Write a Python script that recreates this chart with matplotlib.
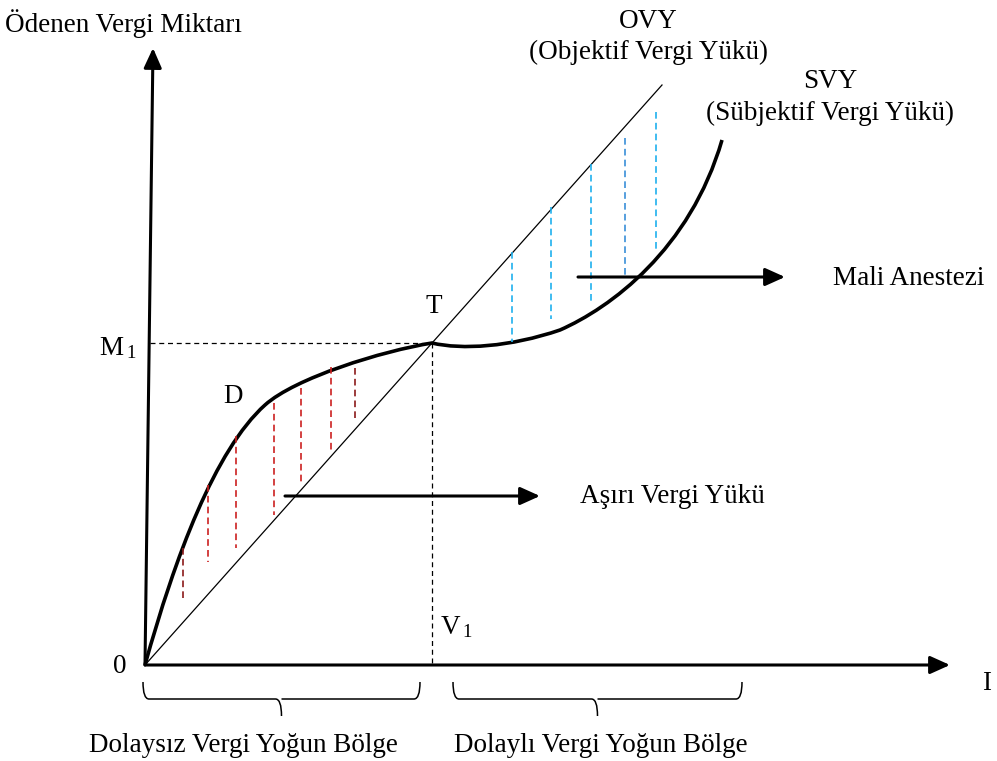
import matplotlib.pyplot as plt
from matplotlib.path import Path
from matplotlib.patches import PathPatch

plt.rcParams['font.family'] = ['Liberation Serif', 'DejaVu Serif']

# key points of the diagram (pixel-like coordinates, y grows downward)
origin = (145, 665)
t_point = (432, 343)
ovy_end = (662, 85)
y_axis_tip = (153, 48)
x_axis_tip = (950, 665)

# SVY curve: anchors and bezier handles
svy_verts = [(145, 665), (175, 557), (215, 450), (265, 405),
             (295, 378), (382, 351), (432, 343),
             (462, 350), (510, 347), (560, 330),
             (610, 308), (690, 250), (722, 140)]

# hatch lines between the curves: x, top, bottom
red_x = [183, 208, 236, 274, 301, 331, 355]
red_top = [548, 485, 436, 403, 388, 367, 368]
red_bot = [598, 562, 548, 515, 483, 451, 418]
red_col = ['#8b1a1a', '#cc2020', '#cc2020', '#cc2020', '#cc2020', '#cc2020', '#8b1a1a']

blue_x = [512, 551, 591, 625, 656]
blue_top = [252, 207, 164, 138, 112]
blue_bot = [342, 319, 303, 277, 250]
blue_col = ['#1fb0ee', '#1fb0ee', '#1fb0ee', '#3a8fd8', '#1fb0ee']

fig = plt.figure(figsize=(9.97, 7.61), dpi=100)
ax = fig.add_axes([0, 0, 1, 1])
ax.set_xlim(0, 997)
ax.set_ylim(761, 0)
ax.axis('off')

arrow = dict(arrowstyle='-|>,head_length=1.0,head_width=0.45', lw=2.2,
             color='black', mutation_scale=12, shrinkA=0, shrinkB=0)

# axes
ax.annotate('', xy=y_axis_tip, xytext=origin, arrowprops=arrow)
ax.annotate('', xy=x_axis_tip, xytext=origin, arrowprops=arrow)

# OVY straight line
ax.plot([origin[0], ovy_end[0]], [origin[1], ovy_end[1]], color='black', lw=0.9)

# SVY curve
codes = [Path.MOVETO] + [Path.CURVE4] * (len(svy_verts) - 1)
ax.add_patch(PathPatch(Path(svy_verts, codes), fill=False, lw=2.6, color='black'))

# M1 / V1 guides
ax.plot([150, t_point[0]], [t_point[1], t_point[1]], color='black', lw=0.9, ls=(0, (4, 3)))
ax.plot([t_point[0], t_point[0]], [t_point[1], origin[1]], color='black', lw=0.9, ls=(0, (4, 3)))

for x, a, b, c in zip(red_x, red_top, red_bot, red_col):
    ax.plot([x, x], [a, b], color=c, lw=1.2, ls=(0, (4, 2.5)))
for x, a, b, c in zip(blue_x, blue_top, blue_bot, blue_col):
    ax.plot([x, x], [a, b], color=c, lw=1.2, ls=(0, (4, 2.5)))

# pointer arrows
ax.annotate('', xy=(540, 496), xytext=(285, 496), arrowprops=arrow)
ax.annotate('', xy=(785, 277), xytext=(578, 277), arrowprops=arrow)

# braces
def brace(x0, x1, y_top=682, y_flat=699, y_tip=716):
    xm = (x0 + x1) / 2
    r = 6
    verts = [(x0, y_top), (x0, y_flat), (x0 + r, y_flat),
             (xm - r, y_flat), (xm, y_flat), (xm, y_tip),
             (xm, y_flat), (xm + r, y_flat),
             (x1 - r, y_flat), (x1, y_flat), (x1, y_top)]
    cds = [Path.MOVETO, Path.CURVE3, Path.CURVE3,
           Path.LINETO, Path.CURVE3, Path.CURVE3,
           Path.MOVETO, Path.CURVE3,
           Path.LINETO, Path.CURVE3, Path.CURVE3]
    ax.add_patch(PathPatch(Path(verts, cds), fill=False, lw=1.1, color='black'))

brace(143, 420)
brace(453, 742)

fs = 19.5
sub = 13.5
ax.text(5, 32, 'Ödenen Vergi Miktarı', fontsize=fs, ha='left', va='baseline')
ax.text(648, 28, 'OVY', fontsize=fs, ha='center', va='baseline')
ax.text(648, 59, '(Objektif Vergi Yükü)', fontsize=fs, ha='center', va='baseline')
ax.text(830, 88, 'SVY', fontsize=fs, ha='center', va='baseline')
ax.text(830, 120, '(Sübjektif Vergi Yükü)', fontsize=fs, ha='center', va='baseline')
ax.text(833, 285, 'Mali Anestezi', fontsize=fs, ha='left', va='baseline')
ax.text(434, 313, 'T', fontsize=fs, ha='center', va='baseline')
ax.text(99, 355, 'M', fontsize=fs, ha='left', va='baseline')
ax.text(126, 358, '1', fontsize=sub, ha='left', va='baseline')
ax.text(233, 403, 'D', fontsize=fs, ha='center', va='baseline')
ax.text(580, 503, 'Aşırı Vergi Yükü', fontsize=fs, ha='left', va='baseline')
ax.text(441, 634, 'V', fontsize=fs, ha='left', va='baseline')
ax.text(462, 637, '1', fontsize=sub, ha='left', va='baseline')
ax.text(120, 673, '0', fontsize=fs, ha='center', va='baseline')
ax.text(987, 690, 'I', fontsize=fs, ha='center', va='baseline')
ax.text(243, 752, 'Dolaysız Vergi Yoğun Bölge', fontsize=fs, ha='center', va='baseline')
ax.text(601, 752, 'Dolaylı Vergi Yoğun Bölge', fontsize=fs, ha='center', va='baseline')

fig.savefig('out.png', dpi=100)
